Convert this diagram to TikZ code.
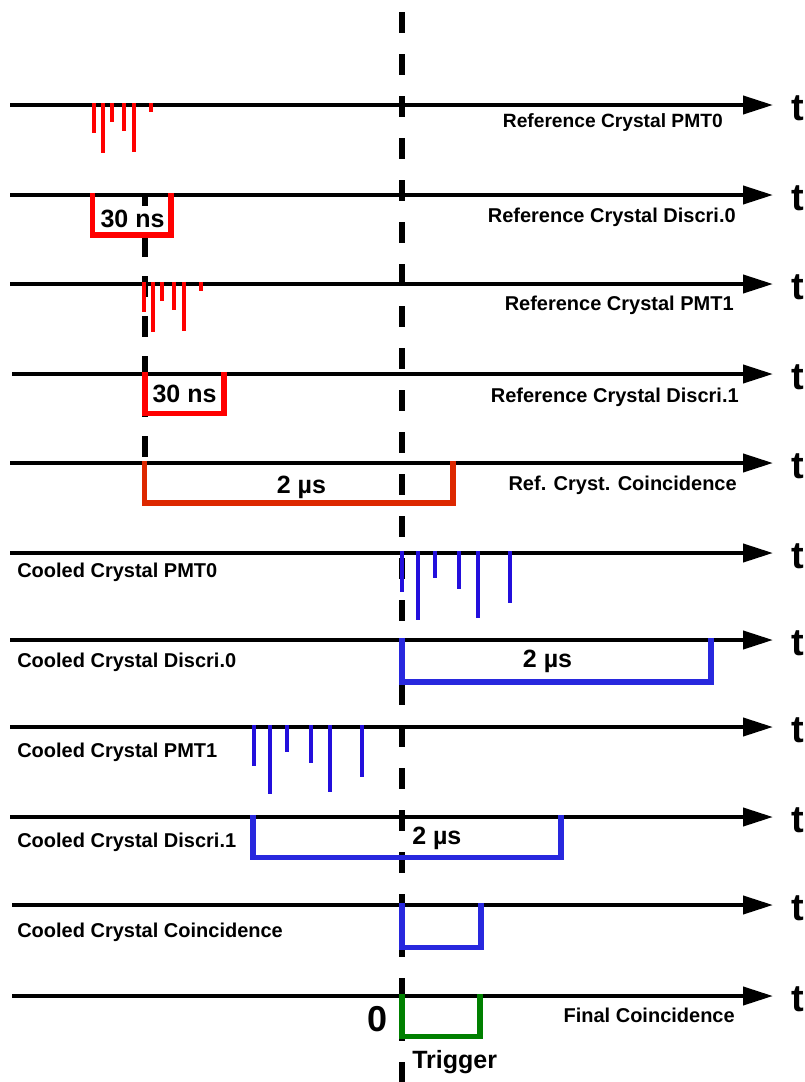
\documentclass[tikz,border=0pt]{standalone}
\usepackage{fontspec}
\setmainfont{Liberation Sans}
\usetikzlibrary{arrows.meta}
\definecolor{pulsered}{RGB}{255,0,0}
\definecolor{coincred}{RGB}{221,40,0}
\definecolor{pulseblue}{RGB}{35,15,220}
\definecolor{boxblue}{RGB}{40,40,222}
\definecolor{trigreen}{RGB}{0,128,0}
\begin{document}
\begin{tikzpicture}[x=0.75pt,y=-0.75pt,
  timeaxis/.style={line width=3pt,-{Triangle[length=22.5pt,width=13.5pt]}},
  tlabel/.style={inner sep=0pt,anchor=base west,font=\bfseries\fontsize{28.5pt}{30pt}\selectfont},
  rlabel/.style={inner sep=0pt,anchor=base east,font=\bfseries\fontsize{15pt}{18pt}\selectfont},
  llabel/.style={inner sep=0pt,anchor=base west,font=\bfseries\fontsize{15pt}{18pt}\selectfont},
  durlabel/.style={inner sep=0pt,anchor=base,font=\bfseries\fontsize{18.75pt}{22pt}\selectfont},
  pulse/.style={line width=3pt,line cap=butt},
  gatebox/.style={line width=4pt,line cap=butt,line join=miter},
  triggerline/.style={line width=5pt,dash pattern=on 15.75pt off 15.75pt},
  refline/.style={line width=5pt,dash pattern=on 15.75pt off 14.25pt}]
\useasboundingbox (0,0) rectangle (805,1082);

% dashed reference lines
\coordinate (trigtop) at (402,12);
\coordinate (trigbot) at (402,1082);
\draw[triggerline] (trigtop) -- (trigbot);
\coordinate (reftop) at (145,196);
\coordinate (refbot) at (145,463);
\draw[refline] (reftop) -- (refbot);

% time axes
\foreach \i/\yy/\xs in {1/105/10,2/195/10,3/284/10,4/374/12,5/463/10,6/553/10,7/640/10,8/727/10,9/817/10,10/905/12,11/996/12}{
  \coordinate (s\i) at (\xs,\yy);
  \coordinate (e\i) at (773,\yy);
  \draw[timeaxis] (s\i) -- (e\i);
  \node[tlabel] (t\i) at (791,\yy+15) {t};
}

% red PMT pulses
\foreach \dx/\len in {0/28,9/48,18/17,30/26,40/47,57/7}{
  \draw[pulse,pulsered] (94+\dx,103) -- (94+\dx,105+\len);
  \draw[pulse,pulsered] (143.5+\dx,282) -- (143.5+\dx,284+\len);
}
% blue PMT pulses
\foreach \dx/\len in {0/39,16/67,33/25,57/36,76/65,108/50}{
  \draw[pulse,pulseblue] (402+\dx,551) -- (402+\dx,553+\len);
  \draw[pulse,pulseblue] (254+\dx,725) -- (254+\dx,727+\len);
}

% gate boxes
\draw[gatebox,pulsered] (92.5,193) -- (92.5,235) -- (171,235) -- (171,193);
\draw[gatebox,pulsered] (145,372) -- (145,413.5) -- (224,413.5) -- (224,372);
\draw[gatebox,coincred] (144.5,461) -- (144.5,503) -- (453,503) -- (453,461);
\draw[gatebox,boxblue] (402,638) -- (402,682) -- (711,682) -- (711,638);
\draw[gatebox,boxblue] (253,815) -- (253,857.5) -- (561,857.5) -- (561,815);
\draw[gatebox,boxblue] (402,903) -- (402,947.5) -- (481,947.5) -- (481,903);
\draw[gatebox,trigreen] (402,994) -- (402,1036.5) -- (480,1036.5) -- (480,994);

% durations
\node[durlabel,fill=white,inner sep=2.5pt] (d1) at (132.5,227) {30 ns};
\node[durlabel] (d2) at (184.5,402) {30 ns};
\node[durlabel] (d3) at (301.5,493) {2 µs};
\node[durlabel] (d4) at (547.5,667) {2 µs};
\node[durlabel,anchor=base west] (d5) at (412,844) {2 µs};

% channel names
\node[rlabel,font=\bfseries\fontsize{14.4pt}{18pt}\selectfont] (n1) at (723,127) {Reference Crystal PMT0};
\node[rlabel] (n2) at (736,222) {Reference Crystal Discri.0};
\node[rlabel] (n3) at (734,310) {Reference Crystal PMT1};
\node[rlabel] (n4) at (739,402) {Reference Crystal Discri.1};
\node[rlabel] (n5) at (737,490) {Ref. Cryst. Coincidence};
\node[llabel] (n6) at (17,577) {Cooled Crystal PMT0};
\node[llabel] (n7) at (17,667) {Cooled Crystal Discri.0};
\node[llabel] (n8) at (17,757) {Cooled Crystal PMT1};
\node[llabel] (n9) at (17,847) {Cooled Crystal Discri.1};
\node[llabel] (n10) at (17,937) {Cooled Crystal Coincidence};
\node[rlabel] (n11) at (735,1022) {Final Coincidence};

% trigger marks
\node[inner sep=0pt,anchor=base,font=\bfseries\fontsize{27pt}{30pt}\selectfont] (zero) at (378,1031) {0};
\node[inner sep=0pt,anchor=base west,font=\bfseries\fontsize{18.75pt}{22pt}\selectfont] (trig) at (412,1068) {Trigger};
\end{tikzpicture}
\end{document}
